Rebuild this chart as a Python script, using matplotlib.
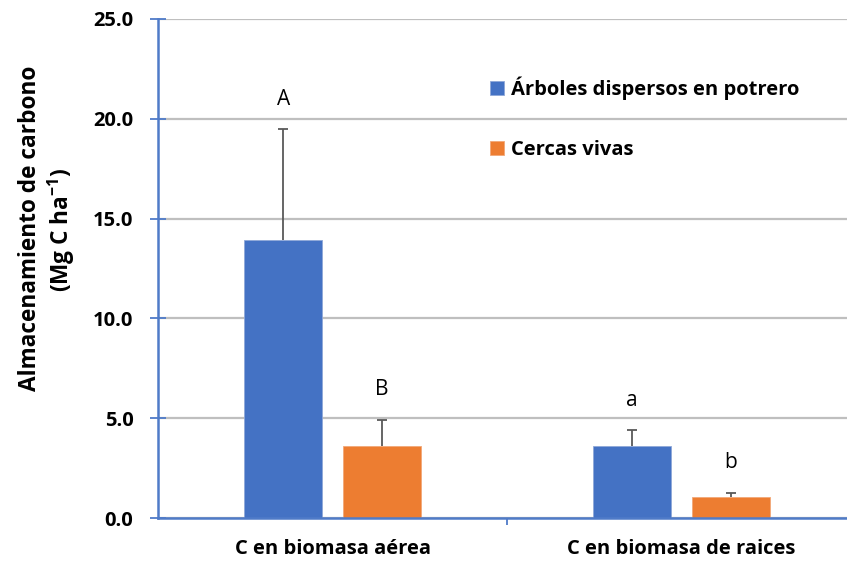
import numpy as np
import matplotlib.pyplot as plt

FONT = ['Open Sans', 'DejaVu Sans']
plt.rcParams['font.family'] = FONT
plt.rcParams['mathtext.fontset'] = 'custom'
plt.rcParams['mathtext.bf'] = 'Open Sans:bold'
plt.rcParams['mathtext.rm'] = 'Open Sans:bold'
plt.rcParams['mathtext.default'] = 'bf'

categories = ["C en biomasa aérea", "C en biomasa de raices"]
series_names = ["Árboles dispersos en potrero", "Cercas vivas"]
arboles = [13.93, 3.60]
arboles_err = [5.56, 0.81]
cercas = [3.60, 1.05]
cercas_err = [1.31, 0.20]
letters_arboles = ["A", "a"]
letters_cercas = ["B", "b"]

blue = "#4472C4"
orange = "#ED7D31"
axis_blue = "#4F7BC8"
err_grey = "#595959"

fig = plt.figure(figsize=(8.47, 5.62), dpi=100)
ax = fig.add_axes([158 / 847, 44 / 562, 698 / 847, 499 / 562])

x = np.arange(len(categories))
w = 0.224
off = 0.141

b1 = ax.bar(x - off, arboles, w, color=blue, edgecolor="#8FA8D8",
            linewidth=0.6, zorder=3, label=series_names[0])
b2 = ax.bar(x + off, cercas, w, color=orange, edgecolor="#F2A878",
            linewidth=0.6, zorder=3, label=series_names[1])

# error bars: only the upper half, with a cap at the top
for xs, vals, errs in [(x - off, arboles, arboles_err), (x + off, cercas, cercas_err)]:
    tops = np.array(vals) + np.array(errs)
    ax.vlines(xs, vals, tops, color=err_grey, linewidth=1.3, zorder=4)
    ax.plot(xs, tops, linestyle="none", marker="_", markersize=7,
            markeredgewidth=1.3, color=err_grey, zorder=4)

for xi, v, e, t in zip(x - off, arboles, arboles_err, letters_arboles):
    ax.annotate(t, (xi, v + e), xytext=(0, 21), textcoords="offset points",
                ha="center", va="center", fontsize=15, color="black")
for xi, v, e, t in zip(x + off, cercas, cercas_err, letters_cercas):
    ax.annotate(t, (xi, v + e), xytext=(0, 22), textcoords="offset points",
                ha="center", va="center", fontsize=15, color="black")

ax.set_xlim(-0.5, 1.5)
ax.set_ylim(0, 25)
ax.set_yticks(np.arange(0, 26, 5))
ax.set_yticklabels([f"{v:.1f}" for v in np.arange(0, 26, 5)], fontsize=14.5,
                   fontweight="bold")
ax.tick_params(axis="y", direction="inout", length=11.5, width=1.3,
               color=axis_blue, pad=12)
ax.yaxis.grid(True, color="#BFBFBF", linewidth=1.6, zorder=0)
ax.set_axisbelow(True)

ax.set_xticks([0.5])
ax.set_xticklabels([""])
ax.tick_params(axis="x", direction="out", length=5, width=1.3, color=axis_blue)
ax.set_xticks(x, minor=True)
ax.set_xticklabels(categories, minor=True, fontsize=14.5, fontweight="bold")
ax.tick_params(axis="x", which="minor", length=0, pad=15)

for s in ["top", "right"]:
    ax.spines[s].set_visible(False)
for s in ["left", "bottom"]:
    ax.spines[s].set_color(axis_blue)
    ax.spines[s].set_linewidth(1.8)
    ax.spines[s].set_zorder(5)

fig.text(30 / 847, 1 - 228 / 562, "Almacenamiento de carbono", rotation=90,
         ha="center", va="center", fontsize=16.3, fontweight="bold")
fig.text(61 / 847, 1 - 230 / 562, "(Mg C ha$^{-1}$)", rotation=90,
         ha="center", va="center", fontsize=16.3, fontweight="bold")

leg = ax.legend(handles=[b1, b2], loc="upper left",
                bbox_to_anchor=(474 / 847, 1 - 60 / 562),
                bbox_transform=fig.transFigure, frameon=False,
                prop=dict(size=14.5, weight="bold"), handlelength=0.7,
                handleheight=0.7, handletextpad=0.35, labelspacing=2.03,
                borderpad=0.3)

fig.savefig("out.png", dpi=100)
